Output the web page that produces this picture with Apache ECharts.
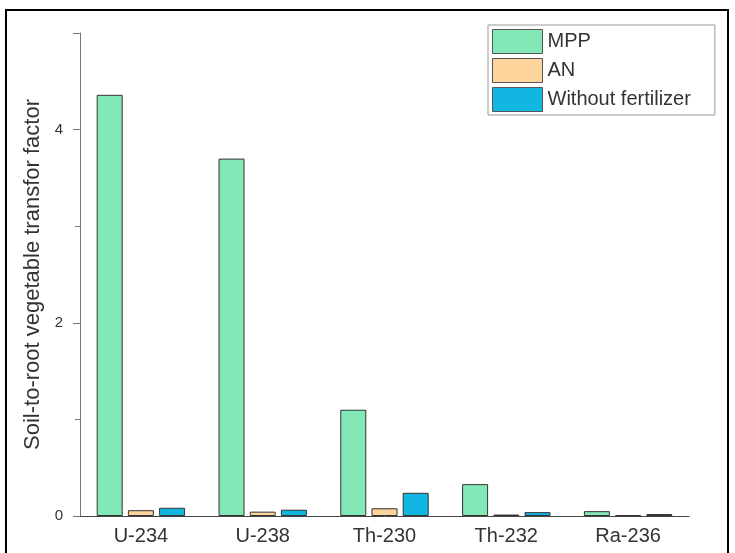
<!DOCTYPE html>
<html>
<head>
<meta charset="utf-8">
<script src="https://cdn.jsdelivr.net/npm/echarts@6/dist/echarts.min.js"></script>
<style>
  html, body { margin: 0; padding: 0; background: #fff; }
  #chart { width: 735px; height: 553px; }
</style>
</head>
<body>
<div id="chart"></div>
<script>
var isotopes = ['U-234', 'U-238', 'Th-230', 'Th-232', 'Ra-236'];
var mpp = [4.36, 3.70, 1.10, 0.33, 0.05];
var an = [0.06, 0.045, 0.08, 0.015, 0.01];
var withoutFert = [0.085, 0.065, 0.24, 0.04, 0.02];

var chart = echarts.init(document.getElementById('chart'));
var font = 'Liberation Sans, Arial, sans-serif';

function bar(name, data, color) {
  return {
    name: name,
    type: 'bar',
    data: data,
    barWidth: 26,
    barGap: '20%',
    itemStyle: { color: color, borderColor: '#333', borderWidth: 1 }
  };
}

var option = {
  animation: false,
  textStyle: { fontFamily: font },
  graphic: [{
    type: 'rect',
    shape: { x: 6, y: 10, width: 722, height: 550 },
    style: { fill: 'none', stroke: '#000', lineWidth: 2 },
    silent: true
  }],
  grid: { left: 80, right: 46, top: 33, bottom: 37 },
  legend: {
    orient: 'vertical',
    left: 488,
    top: 25,
    icon: 'rect',
    itemWidth: 50,
    itemHeight: 24,
    itemGap: 4,
    padding: [4, 24, 3, 4],
    borderColor: '#999',
    borderWidth: 1,
    textStyle: { fontSize: 20, color: '#333' },
    itemStyle: { borderColor: '#555', borderWidth: 1 },
    data: ['MPP', 'AN', 'Without fertilizer']
  },
  xAxis: {
    type: 'category',
    data: isotopes,
    axisLine: { lineStyle: { color: '#444' } },
    axisTick: { show: false },
    axisLabel: { fontSize: 20, color: '#333', margin: 10 }
  },
  yAxis: {
    type: 'value',
    min: 0,
    max: 5,
    interval: 2,
    name: 'Soil-to-root vegetable transfor factor',
    nameLocation: 'middle',
    nameGap: 27,
    nameTextStyle: { fontSize: 22, color: '#333' },
    axisLine: { show: true, lineStyle: { color: '#777' } },
    axisTick: { show: true, length: 7, lineStyle: { color: '#777' } },
    minorTick: { show: true, splitNumber: 2, length: 5, lineStyle: { color: '#777' } },
    splitLine: { show: false },
    axisLabel: { fontSize: 15, color: '#333', margin: 17, showMaxLabel: false }
  },
  series: [
    bar('MPP', mpp, '#82e8b6'),
    bar('AN', an, '#fcd49c'),
    bar('Without fertilizer', withoutFert, '#12b6e2')
  ]
};
chart.setOption(option);
</script>
</body>
</html>
